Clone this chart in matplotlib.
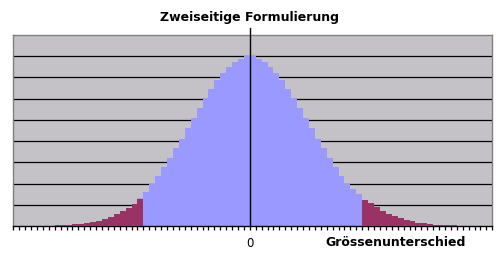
import numpy as np
import matplotlib
matplotlib.use('Agg')
import matplotlib.pyplot as plt

# bar heights (one grid step = 1)
blue = [0, 0, 0, 0, 0, 0, 0, 0.05, 0.05, 0.05,
        0.09, 0.09, 0.14, 0.19, 0.24, 0.33, 0.42, 0.57, 0.71, 0.85,
        1.04, 1.32, 1.60, 1.96, 2.36, 2.78, 3.21, 3.68, 4.10, 4.62,
        5.09, 5.57, 6.04, 6.46, 6.89, 7.22, 7.50, 7.74, 7.88, 8.02,
        8.02, 7.88, 7.74, 7.50, 7.22, 6.89, 6.46, 6.04, 5.57, 5.09,
        4.62, 4.10, 3.68, 3.21, 2.78, 2.36, 1.98, 1.75, 1.51, 1.23,
        1.08, 0.90, 0.71, 0.57, 0.47, 0.38, 0.28, 0.24, 0.14, 0.14,
        0.09, 0.05, 0.05, 0.05, 0.05, 0, 0, 0, 0, 0, 0]
tails = [0, 0, 0, 0, 0, 0, 0, 0.05, 0.05, 0.05,
         0.09, 0.09, 0.14, 0.19, 0.24, 0.33, 0.42, 0.57, 0.71, 0.85,
         1.04, 1.27] + [0] * 37 + [
         1.23, 1.08, 0.90, 0.71, 0.57, 0.47, 0.38, 0.28, 0.24, 0.14,
         0.14, 0.09, 0.05, 0.05, 0.05, 0.05, 0, 0, 0, 0, 0, 0]
zero_pos = 40

title = 'Zweiseitige Formulierung'
xlabel = 'Grössenunterschied'

W, H = 502, 260
fig = plt.figure(figsize=(W / 100, H / 100), dpi=100)
ax = fig.add_axes([13.3 / W, 1 - 226 / H, 479 / W, 191 / H])

ax.set_facecolor('#C4C2C6')
x = np.arange(len(blue))
ax.bar(x, blue, width=1, align='edge', color='#9999FF', linewidth=0, zorder=2)
ax.bar(x, tails, width=1, align='edge', color='#993366', linewidth=0, zorder=3)

ax.set_xlim(0, len(blue))
ax.set_ylim(0, 9)
ax.set_yticks(range(1, 9))
ax.yaxis.grid(True, color='black', linewidth=0.9)
ax.set_axisbelow(True)
ax.tick_params(axis='y', left=False, labelleft=False)

ticks = np.arange(len(blue) + 1)
ax.set_xticks(ticks)
ax.set_xticklabels(['0' if t == zero_pos else '' for t in ticks], fontsize=8.5)
ax.tick_params(axis='x', direction='out', length=3, width=0.9, color='black', pad=5)

for s in ['top', 'left', 'right']:
    ax.spines[s].set_color('#808080')
    ax.spines[s].set_linewidth(1)
ax.spines['bottom'].set_color('black')
ax.spines['bottom'].set_linewidth(1)

ax.plot([zero_pos, zero_pos], [0, 9.34], color='black', linewidth=1, zorder=5, clip_on=False)

fig.text(250 / W, 1 - 18 / H, title, ha='center', va='center',
         fontsize=9, fontweight='bold')
fig.text(466 / W, 1 - 243 / H, xlabel, ha='right', va='center',
         fontsize=9, fontweight='bold')

fig.savefig('out.png', dpi=100)
